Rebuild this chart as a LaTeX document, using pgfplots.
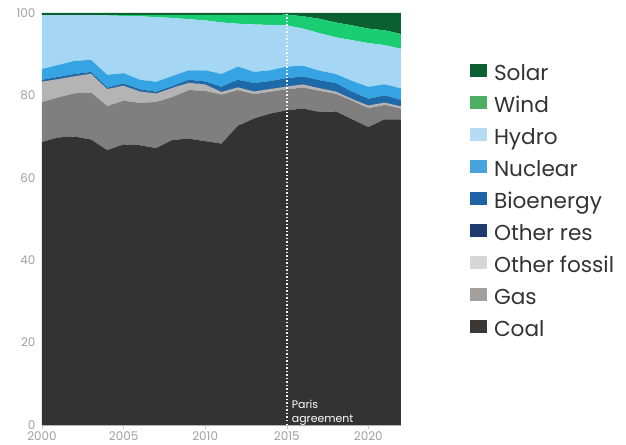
\documentclass[border=0pt]{standalone}
\usepackage{pgfplots}
\pgfplotsset{compat=1.18}
\usepackage{pgfplotstable}
\usepackage{fontspec}
\setmainfont{Poppins}
\definecolor{cCoal}{HTML}{333333}
\definecolor{cGas}{HTML}{7F7F7F}
\definecolor{cOF}{HTML}{B4B4B4}
\definecolor{cOR}{HTML}{1F3A6E}
\definecolor{cBio}{HTML}{1D6AA8}
\definecolor{cNuc}{HTML}{36A3E2}
\definecolor{cHyd}{HTML}{A5D7F4}
\definecolor{cWind}{HTML}{19CD72}
\definecolor{cSolar}{HTML}{0B6032}
\definecolor{lCoal}{HTML}{3B3735}
\definecolor{lGas}{HTML}{A29F9C}
\definecolor{lOF}{HTML}{D6D6D6}
\definecolor{lOR}{HTML}{1F3A6E}
\definecolor{lBio}{HTML}{1E63A5}
\definecolor{lNuc}{HTML}{48A3DC}
\definecolor{lHyd}{HTML}{B6DCF5}
\definecolor{lWind}{HTML}{4CAF64}
\definecolor{lSolar}{HTML}{0E5E33}
\definecolor{tickgray}{HTML}{A0A0A0}
\definecolor{txt}{HTML}{333333}
\pgfplotstableread{
year coal gas of ores bio nuc hydro wind solar
2000 68.7 9.7 4.9 0.1 0.4 2.6 13.0 0.1 0.5
2001 69.8 9.7 4.4 0.1 0.5 2.9 12.1 0.0 0.5
2002 70.0 10.5 4.1 0.1 0.5 3.2 11.1 0.0 0.5
2003 69.3 11.4 4.5 0.1 0.4 2.9 10.9 0.0 0.5
2004 66.7 10.7 4.1 0.1 0.3 3.1 14.4 0.1 0.5
2005 68.1 10.6 3.6 0.1 0.5 2.5 13.9 0.2 0.5
2006 67.9 10.3 2.7 0.1 0.5 2.3 15.4 0.3 0.5
2007 67.2 11.2 2.0 0.1 0.4 2.4 15.7 0.5 0.5
2008 69.2 10.4 2.2 0.1 0.4 2.4 14.1 0.7 0.5
2009 69.5 11.8 1.7 0.1 0.7 2.3 12.4 1.0 0.5
2010 68.9 12.2 1.5 0.1 0.7 2.7 12.1 1.3 0.5
2011 68.3 11.9 0.6 0.1 1.2 3.1 12.5 1.8 0.5
2012 72.6 8.7 0.6 0.1 1.8 3.2 10.4 2.1 0.5
2013 74.4 5.9 0.6 0.1 2.0 2.7 11.5 2.3 0.5
2014 75.6 5.3 0.6 0.1 1.9 2.6 11.0 2.4 0.5
2015 76.4 5.1 0.6 0.1 2.0 2.8 10.0 2.6 0.4
2016 76.8 5.1 0.7 0.1 1.9 2.6 9.0 3.0 0.8
2017 76.0 5.1 0.6 0.1 1.9 2.3 9.1 3.5 1.4
2018 76.1 4.3 0.5 0.1 2.0 2.2 8.9 3.6 2.3
2019 74.2 4.5 0.4 0.1 1.7 2.6 9.9 3.6 3.0
2020 72.3 4.6 0.6 0.1 1.6 2.9 10.6 3.5 3.8
2021 74.2 3.5 0.5 0.1 1.7 2.7 9.5 3.6 4.2
2022 74.2 2.6 0.5 0.1 1.5 2.8 9.6 3.6 5.1
}\datatab
\begin{document}
\begin{tikzpicture}
\begin{axis}[
  name=ax,
  scale only axis,
  width=359bp, height=412bp,
  xmin=2000, xmax=2022, ymin=0, ymax=100,
  stack plots=y,
  xtick={2000,2005,2010,2015,2020},
  ytick={0,20,40,60,80,100},
  x tick label style={/pgf/number format/1000 sep={}},
  /pgf/number format/assume math mode=true,
  tick label style={font=\fontsize{12}{14}\selectfont, text=tickgray},
  axis x line*=bottom, axis y line*=left,
  x axis line style={draw=tickgray!60},
  y axis line style={draw=none},
  tick align=outside,
  xtick style={draw=tickgray!60},
  ytick style={draw=none},
  major tick length=4bp,
  xticklabel style={yshift=1bp},
  yticklabel style={xshift=1bp},
  clip=false,
  legend cell align=left,
  legend style={at={(1.1834,0.882)}, anchor=north west, draw=none, fill=none,
    font=\fontsize{21.7}{24}\selectfont, text=txt,
    nodes={inner sep=0pt, text height=15bp, text depth=5bp},
    row sep=10bp, column sep=7bp},
  legend image code/.code={\fill[#1] (0bp,-1bp) rectangle (17bp,12bp);},
]
\addplot[fill=cCoal, draw=none, forget plot] table[x=year,y=coal]{\datatab} \closedcycle;
\addplot[fill=cGas, draw=none, forget plot] table[x=year,y=gas]{\datatab} \closedcycle;
\addplot[fill=cOF, draw=none, forget plot] table[x=year,y=of]{\datatab} \closedcycle;
\addplot[fill=cOR, draw=none, forget plot] table[x=year,y=ores]{\datatab} \closedcycle;
\addplot[fill=cBio, draw=none, forget plot] table[x=year,y=bio]{\datatab} \closedcycle;
\addplot[fill=cNuc, draw=none, forget plot] table[x=year,y=nuc]{\datatab} \closedcycle;
\addplot[fill=cHyd, draw=none, forget plot] table[x=year,y=hydro]{\datatab} \closedcycle;
\addplot[fill=cWind, draw=none, forget plot] table[x=year,y=wind]{\datatab} \closedcycle;
\addplot[fill=cSolar, draw=none, forget plot] table[x=year,y=solar]{\datatab} \closedcycle;
\addlegendimage{fill=lSolar, draw=none}\addlegendentry{Solar}
\addlegendimage{fill=lWind, draw=none}\addlegendentry{Wind}
\addlegendimage{fill=lHyd, draw=none}\addlegendentry{Hydro}
\addlegendimage{fill=lNuc, draw=none}\addlegendentry{Nuclear}
\addlegendimage{fill=lBio, draw=none}\addlegendentry{Bioenergy}
\addlegendimage{fill=lOR, draw=none}\addlegendentry{Other res}
\addlegendimage{fill=lOF, draw=none}\addlegendentry{Other fossil}
\addlegendimage{fill=lGas, draw=none}\addlegendentry{Gas}
\addlegendimage{fill=lCoal, draw=none}\addlegendentry{Coal}
\coordinate (pb) at (axis cs:2015,0);
\coordinate (pt) at (axis cs:2015,100);
\coordinate (pa) at (axis cs:2015.3,0.7);
\coordinate (pp) at (axis cs:2015.3,4.1);
\end{axis}
\draw[white, line width=1.5bp, dash pattern=on 1.5bp off 2bp] (pb) -- (pt);
\node[anchor=base west, text=white, font=\fontsize{11}{13}\selectfont, inner sep=0pt] at (pp) {Paris};
\node[anchor=base west, text=white, font=\fontsize{11}{13}\selectfont, inner sep=0pt] at (pa) {agreement};
\pgfresetboundingbox
\path ([shift={(-42bp,-20bp)}]ax.south west) rectangle ([shift={(225bp,13bp)}]ax.north east);
\end{tikzpicture}
\end{document}
